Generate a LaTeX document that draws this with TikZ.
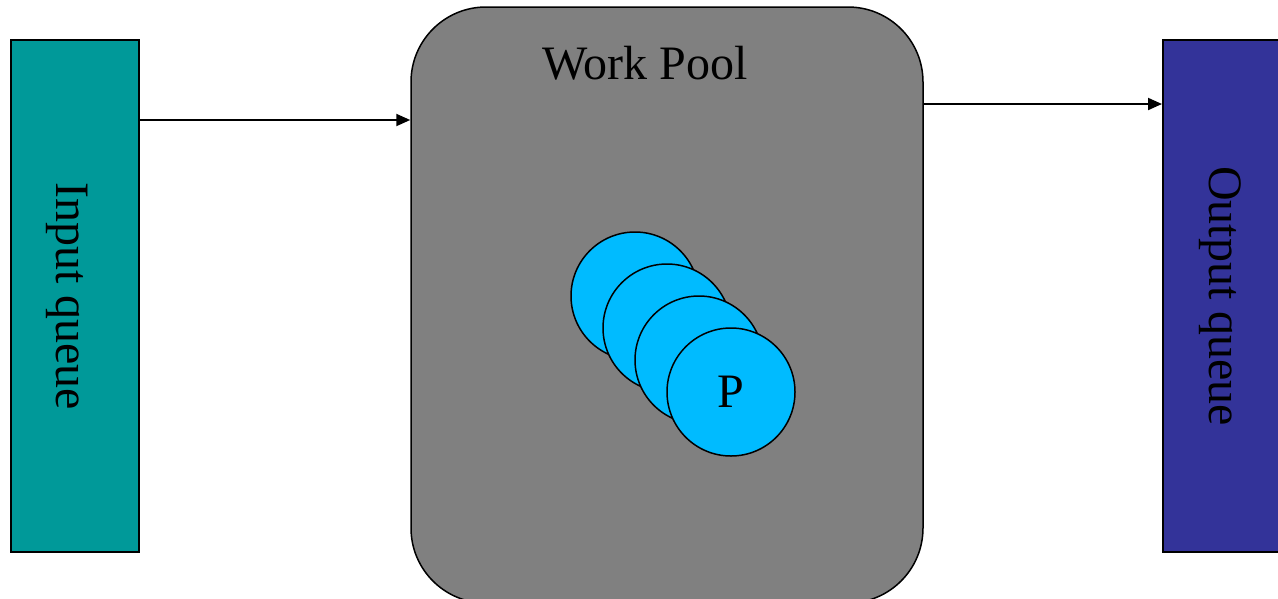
\documentclass[tikz,border=0pt]{standalone}
\usepackage{fontspec}
\setmainfont{Liberation Serif}
\usetikzlibrary{arrows.meta}
\definecolor{inqcol}{HTML}{009999}
\definecolor{outqcol}{HTML}{333399}
\definecolor{poolcol}{HTML}{808080}
\definecolor{proccol}{HTML}{00BBFF}
\begin{document}
\begin{tikzpicture}[x=1pt,y=-1pt,
  queuebox/.style={draw=black, line width=2pt, rectangle, inner sep=0pt,
    minimum width=128pt, minimum height=512pt},
  poolbox/.style={draw=black, line width=1.5pt, fill=poolcol, rectangle,
    rounded corners=75pt, inner sep=0pt, minimum width=512pt, minimum height=596pt},
  proc/.style={draw=black, line width=1.5pt, fill=proccol, circle,
    inner sep=0pt, minimum size=128pt},
  bigtext/.style={font=\fontsize{48}{52}\selectfont, inner sep=0pt},
  flow/.style={line width=2pt, -{Triangle[length=14pt,width=12pt]}}]
\clip (0,0) rectangle (1278,598);
\useasboundingbox (0,0) rectangle (1278,598);

% queues and the work pool
\node[queuebox, fill=inqcol] (inq) at (75,296) {};
\node[queuebox, fill=outqcol, minimum width=140pt] (outq) at (1233,296) {};
\node[poolbox] (pool) at (667,305) {};

\node[bigtext, rotate=-90] (inqtxt) at (67.5,296) {Input queue};
\node[bigtext, rotate=-90] (outqtxt) at (1220.5,296) {Output queue};
\node[bigtext, anchor=base] (pooltxt) at (645,79) {Work Pool};

% stacked processes
\node[proc] (p1) at (635,296) {};
\node[proc] (p2) at (667,328) {};
\node[proc] (p3) at (699,360) {};
\node[proc, bigtext, inner sep=0pt, minimum size=128pt] (p4) at (731,392) {P};

% flows into and out of the pool
\coordinate (inlevel) at (0,120);
\coordinate (outlevel) at (0,104);
\draw[flow] (inq.east |- inlevel) -- (pool.west |- inlevel);
\draw[flow] (pool.east |- outlevel) -- (outq.west |- outlevel);
\end{tikzpicture}
\end{document}
